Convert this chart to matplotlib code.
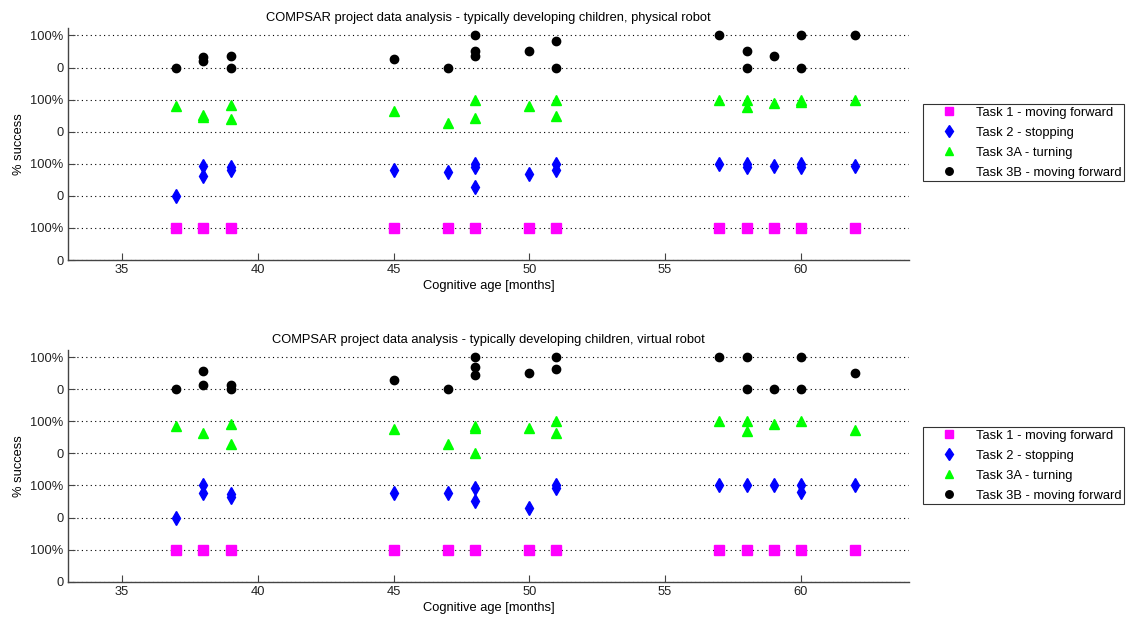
#COMPSAR success rates vs cognitive age, physical and virtual robot
import matplotlib
matplotlib.use('Agg')
import matplotlib.pyplot as plt

plt.rcParams['font.family'] = ['Liberation Sans', 'DejaVu Sans']

task_names = ["Task 1 - moving forward", "Task 2 - stopping",
              "Task 3A - turning", "Task 3B - moving forward"]

# physical robot: (age, % success) per task
phys_t1_age = [37, 38, 39, 45, 47, 48, 50, 51, 57, 58, 59, 60, 62]
phys_t1_pct = [100, 100, 100, 100, 100, 100, 100, 100, 100, 100, 100, 100, 100]

phys_t2_age = [37, 38, 38, 39, 39, 45, 47, 48, 48, 48, 50, 51, 51, 57, 58, 58, 59, 60, 60, 62]
phys_t2_pct = [0, 93, 62, 90, 82, 80, 74, 100, 90, 28, 69, 100, 80, 100, 100, 90, 92, 100, 90, 92]

phys_t3a_age = [37, 38, 38, 39, 39, 45, 47, 48, 48, 50, 51, 51, 57, 58, 58, 59, 60, 60, 62]
phys_t3a_pct = [80, 52, 46, 83, 39, 65, 26, 100, 43, 80, 100, 50, 100, 100, 78, 90, 100, 92, 100]

phys_t3b_age = [37, 38, 38, 39, 39, 45, 47, 48, 48, 48, 50, 51, 51, 57, 58, 58, 59, 60, 60, 62]
phys_t3b_pct = [0, 32, 19, 37, 0, 25, 0, 100, 50, 35, 50, 84, 0, 100, 50, 0, 35, 100, 0, 100]

# virtual robot
virt_t1_age = [37, 38, 39, 45, 47, 48, 50, 51, 57, 58, 59, 60, 62]
virt_t1_pct = [100, 100, 100, 100, 100, 100, 100, 100, 100, 100, 100, 100, 100]

virt_t2_age = [37, 38, 38, 39, 39, 45, 47, 48, 48, 50, 51, 51, 57, 58, 59, 60, 60, 62]
virt_t2_pct = [0, 100, 75, 72, 65, 75, 75, 93, 50, 31, 100, 91, 100, 100, 100, 100, 80, 100]

virt_t3a_age = [37, 38, 39, 39, 45, 47, 48, 48, 48, 50, 51, 51, 57, 58, 58, 59, 60, 62]
virt_t3a_pct = [85, 62, 90, 28, 75, 28, 86, 79, 1, 79, 100, 62, 100, 100, 70, 90, 100, 72]

virt_t3b_age = [37, 38, 38, 39, 39, 45, 47, 48, 48, 48, 50, 51, 51, 57, 58, 58, 59, 60, 60, 62]
virt_t3b_pct = [0, 57, 13, 14, 2, 29, 0, 100, 70, 44, 51, 100, 63, 100, 100, 0, 0, 100, 0, 50]

titles = ["COMPSAR project data analysis - typically developing children, physical robot",
          "COMPSAR project data analysis - typically developing children, virtual robot"]

offsets = [0, 2, 4, 6]
styles = [dict(marker='s', color='#ff00ff', ms=6.5),
          dict(marker='d', color='#0000ff', ms=6.8),
          dict(marker='^', color='#00ff00', ms=7),
          dict(marker='o', color='k', ms=6)]

datasets = [[(phys_t1_age, phys_t1_pct), (phys_t2_age, phys_t2_pct),
             (phys_t3a_age, phys_t3a_pct), (phys_t3b_age, phys_t3b_pct)],
            [(virt_t1_age, virt_t1_pct), (virt_t2_age, virt_t2_pct),
             (virt_t3a_age, virt_t3a_pct), (virt_t3b_age, virt_t3b_pct)]]

fs = 9.3
fig = plt.figure(figsize=(11.27, 6.21), dpi=100)
axes_rects = [[0.060, 0.5813, 0.747, 0.373], [0.060, 0.0633, 0.747, 0.373]]
legend_tops = [1 - 104/621., 1 - 427/621.]

for k in range(2):
    ax = fig.add_axes(axes_rects[k])
    handles = []
    for (age, pct), off, st, name in zip(datasets[k], offsets, styles, task_names):
        y = [off + p/100. for p in pct]
        h, = ax.plot(age, y, linestyle='none', marker=st['marker'], color=st['color'],
                     markersize=st['ms'], markeredgecolor=st['color'], label=name)
        handles.append(h)
    ax.set_xlim(33, 64)
    ax.set_ylim(0, 7.22)
    ax.set_xticks([35, 40, 45, 50, 55, 60])
    ax.set_yticks(range(8))
    ax.set_yticklabels(['0', '100%'] * 4)
    ax.yaxis.grid(True, linestyle=(0, (1, 3)), color='k', linewidth=0.8)
    ax.set_axisbelow(True)
    for s in ['top', 'right']:
        ax.spines[s].set_visible(False)
    for s in ['left', 'bottom']:
        ax.spines[s].set_color('#444444')
        ax.spines[s].set_linewidth(1.0)
    ax.tick_params(direction='in', length=5, labelsize=fs, colors='#444444',
                   labelcolor='#222222', pad=3)
    ax.set_title(titles[k], fontsize=fs, pad=5)
    ax.set_xlabel("Cognitive age [months]", fontsize=fs, labelpad=3)
    ax.set_ylabel("% success", fontsize=fs, labelpad=4)
    leg = fig.legend(handles=handles, loc='upper left', bbox_to_anchor=(923/1127., legend_tops[k]),
                     borderaxespad=0, fontsize=fs, frameon=True, fancybox=False, edgecolor='k',
                     handletextpad=0.3, borderpad=0.2, labelspacing=0.62, handlelength=3.6,
                     markerscale=0.9)
    leg.get_frame().set_linewidth(0.8)

plt.savefig("out.png", dpi=100)
